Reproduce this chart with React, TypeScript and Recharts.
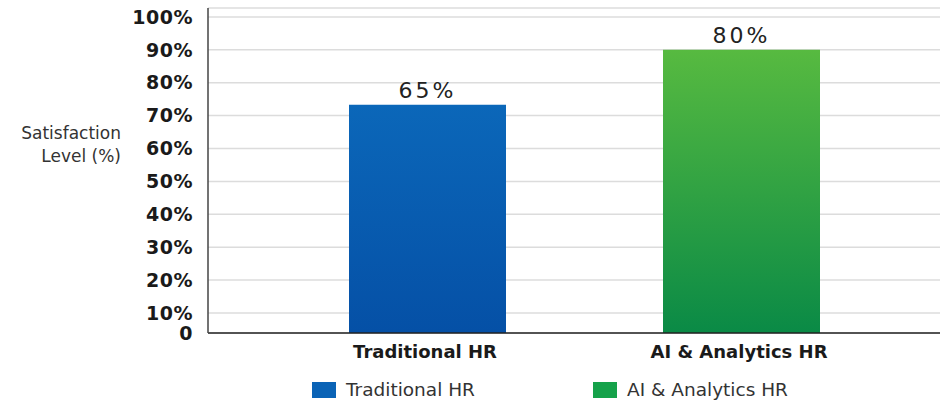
import { BarChart, Bar, XAxis, YAxis, CartesianGrid, Cell, LabelList, Legend, Label } from "recharts"

const categories = ["Traditional HR", "AI & Analytics HR"]
const barHeights = [73.3, 90]
const shownLabels = ["65%", "80%"]
const yTicks = [3.92, 10, 20, 30, 40, 50, 60, 70, 80, 90, 100]
const yTickLabels = ["0", "10%", "20%", "30%", "40%", "50%", "60%", "70%", "80%", "90%", "100%"]

const gradients = [
  { id: "gradBlue", top: "#0b67b9", bottom: "#0550a6", swatch: "#0a63b6" },
  { id: "gradGreen", top: "#57ba40", bottom: "#0a8a46", swatch: "#15a24a" },
]

const rows = categories.map((name, i) => ({ name, value: barHeights[i], shown: shownLabels[i] }))

const FONT = "'DejaVu Sans', sans-serif"

function YTitle() {
  return (
    <text x={121} y={138} textAnchor="end" fontFamily={FONT} fontSize={17} fill="#333">
      <tspan x={121} y={139}>Satisfaction</tspan>
      <tspan x={121} y={162}>Level (%)</tspan>
    </text>
  )
}

function LegendBox() {
  const xs = [312, 593]
  return (
    <div style={{ position: "relative", height: 28, fontFamily: FONT, fontSize: 18.5, color: "#333" }}>
      {categories.map((c, i) => (
        <div
          key={c}
          style={{ position: "absolute", left: xs[i], top: 5, height: 22, display: "flex", alignItems: "center", whiteSpace: "nowrap" }}
        >
          <span style={{ display: "inline-block", width: 24, height: 16, background: gradients[i].swatch, marginRight: 10 }} />
          <span style={{ lineHeight: "22px" }}>{c}</span>
        </div>
      ))}
    </div>
  )
}

export default function App() {
  return (
    <div style={{ position: "absolute", left: 0, top: 0, width: 940, height: 402, background: "#fff" }}>
      <BarChart width={940} height={402} data={rows} margin={{ top: 8, right: 0, left: 0, bottom: 0 }}>
        <defs>
          {gradients.map((g) => (
            <linearGradient key={g.id} id={g.id} x1="0" y1="0" x2="0" y2="1">
              <stop offset="0%" stopColor={g.top} />
              <stop offset="100%" stopColor={g.bottom} />
            </linearGradient>
          ))}
        </defs>
        <CartesianGrid vertical={false} stroke="#dcdcdc" strokeWidth={1.5} />
        <XAxis
          dataKey="name"
          height={41}
          padding={{ left: 62, right: 42 }}
          axisLine={{ stroke: "#222", strokeWidth: 1.5 }}
          tickLine={false}
          tick={{ fontFamily: FONT, fontSize: 18, fontWeight: 700, fill: "#1a1a1a", dx: -2 }}
          tickMargin={6}
        />
        <YAxis
          width={208}
          domain={[3.92, 102.7]}
          ticks={yTicks}
          interval={0}
          allowDataOverflow
          axisLine={{ stroke: "#444", strokeWidth: 1.5 }}
          tickLine={false}
          tickMargin={9}
          tickFormatter={(v: number) => yTickLabels[yTicks.indexOf(v)]}
          tick={{ fontFamily: FONT, fontSize: 19, fontWeight: 700, fill: "#1a1a1a", letterSpacing: 0.5 }}
        >
          <Label content={<YTitle />} />
        </YAxis>
        <Legend verticalAlign="bottom" height={28} content={<LegendBox />} />
        <Bar dataKey="value" barSize={157} isAnimationActive={false}>
          {rows.map((r, i) => (
            <Cell key={r.name} fill={`url(#${gradients[i].id})`} />
          ))}
          <LabelList
            dataKey="shown"
            position="top"
            offset={7}
            style={{ fontFamily: FONT, fontSize: 22, fill: "#222", letterSpacing: 3 }}
          />
        </Bar>
      </BarChart>
    </div>
  )
}
